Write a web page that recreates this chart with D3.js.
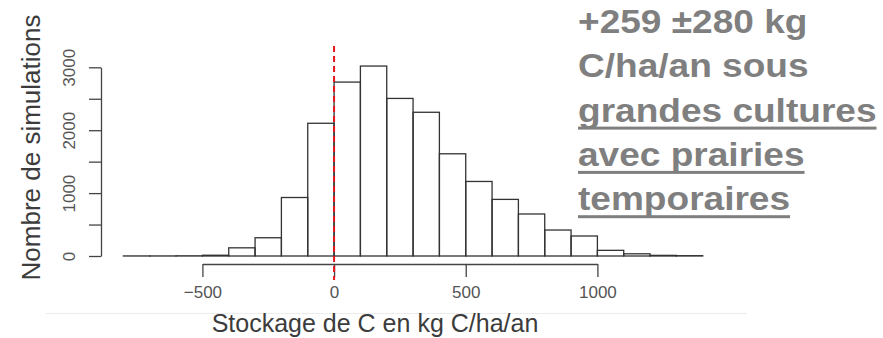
<!DOCTYPE html>
<html>
<head>
<meta charset="utf-8">
<script src="https://cdn.jsdelivr.net/npm/d3@7/dist/d3.min.js"></script>
<style>
  html, body { margin: 0; padding: 0; background: #fff; }
  svg { display: block; font-family: "Liberation Sans", Arial, sans-serif; }
</style>
</head>
<body>
<div id="chart"></div>
<script>
'use strict';

// Histogram data: start of each 100 kg bin and the number of simulations in it
const binStarts = [-800, -700, -600, -500, -400, -300, -200, -100, 0, 100, 200,
                   300, 400, 500, 600, 700, 800, 900, 1000, 1100, 1200, 1300];
const binCounts = [1, 1, 3, 12, 130, 290, 930, 2110, 2765, 3020, 2505,
                   2285, 1625, 1185, 900, 668, 413, 318, 90, 35, 10, 5];
const binWidth = 100;

// Axis ticks
const xTicks = [-500, 0, 500, 1000];
const yTicks = [0, 500, 1000, 1500, 2000, 2500, 3000];
const yLabelled = [0, 1000, 2000, 3000];

// Reference line (zero storage)
const refValue = 0;

// Texts
const xTitle = 'Stockage de C en kg C/ha/an';
const yTitle = 'Nombre de simulations';
const noteLines = [
    { text: '+259 ±280 kg', underline: false },
    { text: 'C/ha/an sous', underline: false },
    { text: 'grandes cultures', underline: true },
    { text: 'avec prairies', underline: true },
    { text: 'temporaires', underline: true }
];

const width = 883, height = 338;
const fmt = d3.format('d');

const svg = d3.select('#chart').append('svg')
    .attr('width', width)
    .attr('height', height);

svg.append('rect')
    .attr('width', width)
    .attr('height', height)
    .attr('fill', '#fff');

// Scales
const x = d3.scaleLinear().domain([-500, 1000]).range([202.4, 597.4]);
const y = d3.scaleLinear().domain([0, 3000]).range([256, 67.3]);

// faint border of the pasted plot
svg.append('line')
    .attr('x1', 46).attr('x2', 747)
    .attr('y1', 313.5).attr('y2', 313.5)
    .attr('stroke', '#ececec')
    .attr('stroke-width', 1);

// Histogram bars
svg.append('g')
    .classed('bars', true)
    .selectAll('rect')
    .data(binStarts.map((s, i) => ({ start: s, count: binCounts[i] })))
    .join('rect')
    .attr('x', d => x(d.start))
    .attr('width', d => x(d.start + binWidth) - x(d.start))
    .attr('y', d => y(d.count))
    .attr('height', d => y(0) - y(d.count))
    .attr('fill', 'none')
    .attr('stroke', '#333')
    .attr('stroke-width', 1.3);

// X axis (R style: line only spans the tick range, offset below the bars)
const xAxisScale = x.copy().domain([xTicks[0], xTicks[xTicks.length - 1]])
    .range([x(xTicks[0]), x(xTicks[xTicks.length - 1])]);

const xAxis = svg.append('g')
    .attr('transform', 'translate(0,264)')
    .call(d3.axisBottom(xAxisScale)
        .tickValues(xTicks)
        .tickFormat(fmt)
        .tickSize(13)
        .tickSizeOuter(0)
        .tickPadding(9));

xAxis.select('.domain').attr('stroke', '#444').attr('stroke-width', 1.3);
xAxis.selectAll('.tick line').attr('stroke', '#444').attr('stroke-width', 1.3);
xAxis.selectAll('.tick text')
    .attr('fill', '#555')
    .style('font-size', '17px')
    .style('font-family', '"Liberation Sans", Arial, sans-serif');

// Y axis
const yAxisScale = y.copy().domain([yTicks[0], yTicks[yTicks.length - 1]])
    .range([y(yTicks[0]), y(yTicks[yTicks.length - 1])]);

const yAxis = svg.append('g')
    .attr('transform', 'translate(101,0)')
    .call(d3.axisLeft(yAxisScale)
        .tickValues(yTicks)
        .tickSize(12)
        .tickSizeOuter(0)
        .tickFormat(d => yLabelled.includes(d) ? fmt(d) : ''));

yAxis.select('.domain').attr('stroke', '#444').attr('stroke-width', 1.3);
yAxis.selectAll('.tick line').attr('stroke', '#444').attr('stroke-width', 1.3);
yAxis.selectAll('.tick text')
    .attr('fill', '#555')
    .attr('x', null).attr('dy', null)
    .attr('text-anchor', 'middle')
    .attr('transform', 'translate(-26,0) rotate(-90)')
    .style('font-size', '17px')
    .style('font-family', '"Liberation Sans", Arial, sans-serif');

// Red dashed reference line at zero
svg.append('line')
    .attr('x1', x(refValue)).attr('x2', x(refValue))
    .attr('y1', 46).attr('y2', 280)
    .attr('stroke', '#e8141b')
    .attr('stroke-width', 2)
    .attr('stroke-dasharray', '6,4');

// Axis titles
svg.append('text')
    .attr('x', 375).attr('y', 332)
    .attr('text-anchor', 'middle')
    .attr('fill', '#3c3c3c')
    .style('font-size', '25px')
    .text(xTitle);

svg.append('text')
    .attr('transform', 'translate(40,147.5) rotate(-90)')
    .attr('text-anchor', 'middle')
    .attr('fill', '#3c3c3c')
    .style('font-size', '26px')
    .text(yTitle);

// Annotation block on the right
const note = svg.append('g')
    .attr('transform', 'translate(578,0) scale(1.09,1)');

const lineGap = 44.3, firstBaseline = 33;

noteLines.forEach((l, i) => {
    const t = note.append('text')
        .attr('x', 0)
        .attr('y', firstBaseline + i * lineGap)
        .attr('fill', '#7f7f7f')
        .style('font-size', '34px')
        .style('font-weight', 'bold')
        .text(l.text);

    if (l.underline){
        const w = t.node().getComputedTextLength();
        note.append('rect')
            .attr('x', 0)
            .attr('y', firstBaseline + i * lineGap + 5)
            .attr('width', w)
            .attr('height', 3)
            .attr('fill', '#7f7f7f');
    }
});
</script>
</body>
</html>
